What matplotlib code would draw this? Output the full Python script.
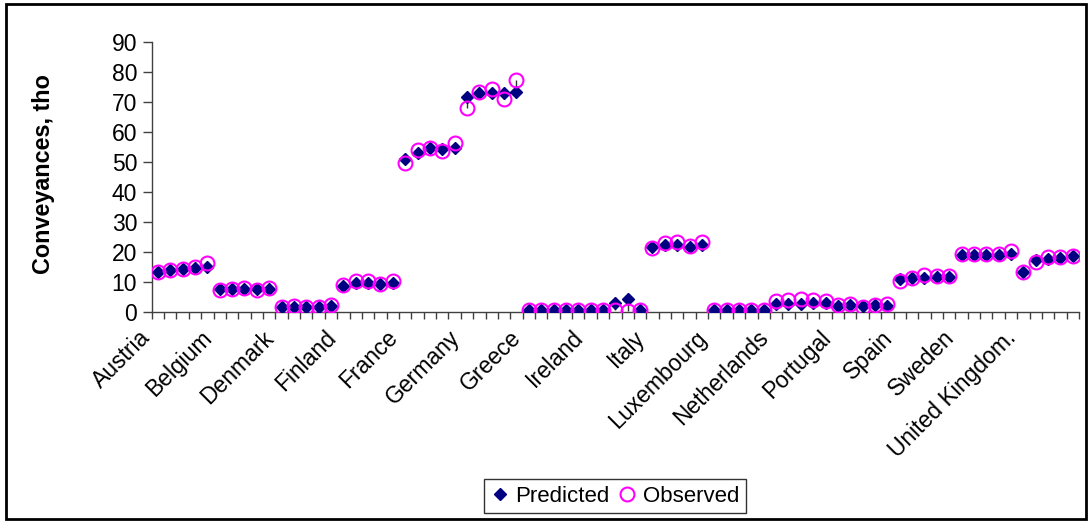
import numpy as np
import matplotlib
matplotlib.use("Agg")
import matplotlib.pyplot as plt
from matplotlib.transforms import ScaledTranslation
from matplotlib.patches import Rectangle
from matplotlib.lines import Line2D

countries = ['Austria', 'Belgium', 'Denmark', 'Finland', 'France', 'Germany',
             'Greece', 'Ireland', 'Italy', 'Luxembourg', 'Netherlands',
             'Portugal', 'Spain', 'Sweden', 'United Kingdom.']

predicted = [
    13.5, 14.2, 14.4, 14.8, 15.2,   # Austria
    7.8, 7.8, 7.8, 7.8, 7.8,        # Belgium
    1.8, 1.9, 1.9, 1.9, 2.0,        # Denmark
    8.9, 9.8, 9.8, 9.6, 9.7,        # Finland
    51.1, 53.2, 54.7, 54.3, 54.7,   # France
    71.7, 73.2, 73.0, 73.2, 73.3,   # Germany
    0.8, 0.8, 0.8, 0.8, 0.8,        # Greece
    0.8, 0.8, 3.0, 4.3, 0.8,        # Ireland
    21.9, 22.4, 22.4, 21.9, 22.4,   # Italy
    0.7, 0.7, 0.7, 0.7, 0.7,        # Luxembourg
    2.7, 2.8, 2.9, 3.0, 3.0,        # Netherlands
    2.1, 2.4, 2.1, 2.4, 2.1,        # Portugal
    11.0, 11.3, 11.5, 11.7, 11.7,   # Spain
    19.1, 19.1, 19.2, 19.2, 19.4,   # Sweden
    13.3, 17.4, 17.9, 18.1, 18.8,   # United Kingdom
]

observed = [
    13.3, 14.2, 14.4, 15.0, 16.5,
    7.4, 7.8, 8.0, 7.5, 8.0,
    1.8, 2.0, 1.9, 1.8, 2.6,
    9.2, 10.3, 10.3, 9.6, 10.3,
    49.7, 54.1, 54.9, 53.9, 56.3,
    68.2, 73.3, 74.3, 71.0, 77.4,
    0.9, 0.9, 0.9, 0.9, 0.9,
    0.9, 0.8, 0.8, 0.5, 0.8,
    21.3, 23.0, 23.3, 22.1, 23.3,
    0.8, 0.8, 0.8, 0.8, 0.8,
    3.8, 4.2, 4.3, 4.0, 3.7,
    2.4, 2.7, 1.8, 2.4, 2.7,
    10.5, 11.3, 12.4, 12.1, 12.1,
    19.4, 19.4, 19.4, 19.3, 20.6,
    13.3, 16.9, 18.3, 18.5, 18.8,
]

yticks = [0, 10, 20, 30, 40, 50, 60, 70, 80, 90]
ylabel = 'Conveyances, tho'

plt.rcParams['font.family'] = ['Liberation Sans', 'DejaVu Sans']

W, H = 1091, 522
fig = plt.figure(figsize=(W / 100, H / 100), dpi=100)
ax = fig.add_axes([151.7 / W, 1 - 312.3 / H, (1079 - 151.7) / W, (312.3 - 42.3) / H])

x = np.arange(len(predicted))
pred = np.array(predicted)
obs = np.array(observed)

ax.vlines(x, np.minimum(pred, obs), np.maximum(pred, obs), color='#303030', lw=1, zorder=2)
ax.plot(x, pred, linestyle='none', marker='D', ms=6.5, color='#000080', zorder=3)
ax.plot(x, obs, linestyle='none', marker='o', ms=10, mfc='none', mec='#FF00FF', mew=1.5, zorder=4)

ax.set_xlim(-0.5, len(predicted) - 0.5)
ax.set_ylim(0, 90)
ax.set_yticks(yticks)
ax.set_xticks(np.arange(-0.5, len(predicted), 1))
ax.set_xticklabels([])
ax.tick_params(axis='y', direction='out', length=6.5, width=1, color='#404040',
               labelsize=16.5, pad=4)
ax.tick_params(axis='x', direction='out', length=4.8, width=1, color='#404040')
for s in ['top', 'right']:
    ax.spines[s].set_visible(False)
for s in ['left', 'bottom']:
    ax.spines[s].set_color('#404040')
    ax.spines[s].set_linewidth(1)

off = ScaledTranslation(-11 / 100, -22 / 100, fig.dpi_scale_trans)
for i, c in enumerate(countries):
    ax.text(i * 5, 0, c, transform=ax.transData + off, rotation=45,
            rotation_mode='anchor', ha='right', va='center', fontsize=16.5)

fig.text(44 / W, 1 - 174 / H, ylabel, rotation=90, ha='center', va='center',
         fontsize=16.8, fontweight='bold')

handles = [Line2D([], [], linestyle='none', marker='D', ms=6, color='#000080'),
           Line2D([], [], linestyle='none', marker='o', ms=10, mfc='none',
                  mec='#FF00FF', mew=1.5)]
leg = fig.legend(handles, ['Predicted', 'Observed'], loc='center',
                 bbox_to_anchor=(615 / W, 1 - 496 / H), ncol=2, fontsize=16,
                 frameon=True, fancybox=False, handlelength=0.8,
                 handletextpad=0.3, columnspacing=0.4, borderpad=0.3)
leg.get_frame().set_edgecolor('black')
leg.get_frame().set_linewidth(1)

fig.patches.append(Rectangle((6 / W, 3 / H), (1086 - 6) / W, (518 - 3) / H,
                             transform=fig.transFigure, fill=False,
                             edgecolor='black', linewidth=2))

fig.savefig('out.png', dpi=100)
